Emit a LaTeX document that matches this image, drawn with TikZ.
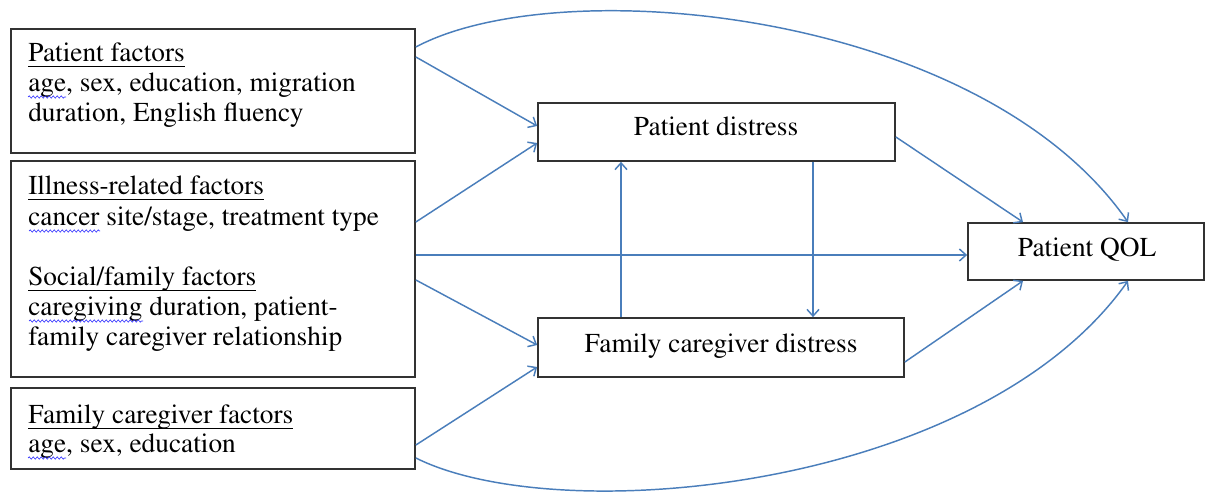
\documentclass[tikz,border=0pt]{standalone}
\usepackage[T1]{fontenc}
\renewcommand{\rmdefault}{ptm}
\usetikzlibrary{arrows.meta,decorations.pathmorphing}
\definecolor{arrowblue}{RGB}{74,126,187}
\definecolor{boxline}{RGB}{50,50,50}
\newcommand{\myul}[1]{\setbox0\hbox{#1}\rlap{\rule[-3.6pt]{\wd0}{0.9pt}}\box0}
\newcommand{\rbox}[5]{\node[bx, minimum width={(#4-#2)*0.75pt}, minimum height={(#5-#3)*0.75pt}] (#1) at ({(#2+#4)/2},{(#3+#5)/2}) {};}
\begin{document}
\begin{tikzpicture}[x=0.75pt,y=-0.75pt,
 bx/.style={draw=boxline, line width=1.3pt, inner sep=0pt},
 txt/.style={anchor=base west, inner sep=0pt, font=\fontsize{20.5}{22.5}\selectfont},
 ctxt/.style={anchor=base, inner sep=0pt, font=\fontsize{20.5}{22.5}\selectfont},
 conn/.style={draw=arrowblue, line width=1.1pt, -{Straight Barb[length=5pt,width=9pt]}},
 wavy/.style={draw=blue!80, line width=0.5pt, decorate, decoration={snake, amplitude=0.8pt, segment length=3pt}}]
\useasboundingbox (0,0) rectangle (1206,498);
% boxes
\rbox{pf}{11}{29}{415}{153}
\rbox{ir}{11}{161}{415}{377}
\rbox{fc}{11}{388}{415}{469}
\rbox{pd}{538}{103}{895}{161}
\rbox{fd}{538}{318}{904}{377}
\rbox{ql}{968}{223}{1204}{280}
% texts
\node[txt] (pf1) at (28,62) {\myul{Patient factors}};
\node[txt] (pf2) at (28,92) {age, sex, education, migration};
\node[txt] (pf3) at (28,122) {duration, English fluency};
\node[txt] (ir1) at (28,195) {\myul{Illness-related factors}};
\node[txt] (ir2) at (28,226) {cancer site/stage, treatment type};
\node[txt] (ir3) at (28,286) {\myul{Social/family factors}};
\node[txt] (ir4) at (28,316) {caregiving duration, patient-};
\node[txt] (ir5) at (28,346) {family caregiver relationship};
\node[txt] (fc1) at (28,424) {\myul{Family caregiver factors}};
\node[txt] (fc2) at (28,453) {age, sex, education};
\node[ctxt] (pdt) at (716,136) {Patient distress};
\node[ctxt] (fdt) at (721,353) {Family caregiver distress};
\node[ctxt] (qlt) at (1087,257) {Patient QOL};
% spell-check squiggles
\draw[wavy] (28,97) -- (66,97);
\draw[wavy] (29,231) -- (100,231);
\draw[wavy] (29,321) -- (143,321);
\draw[wavy] (28,458) -- (66,458);
% connectors
\draw[conn] (pf.east |- 0,57) -- (pd.west |- 0,126);
\draw[conn] (ir.east |- 0,222) -- (pd.west |- 0,143);
\draw[conn] (ir.east |- 0,255) -- (ql.west |- 0,255);
\draw[conn] (ir.east |- 0,280) -- (fd.west |- 0,345);
\draw[conn] (fc.east |- 0,445) -- (fd.west |- 0,367);
\draw[conn] (pd.east |- 0,137) -- (ql.north -| 1023,0);
\draw[conn] (fd.east |- 0,362) -- (ql.south -| 1023,0);
\draw[conn] (fd.north -| 621,0) -- (pd.south -| 621,0);
\draw[conn] (pd.south -| 813,0) -- (fd.north -| 813,0);
\draw[conn] (pf.east |- 0,47) .. controls (560,-30) and (980,10) .. (ql.north -| 1128,0);
\draw[conn] (fc.east |- 0,458) .. controls (560,530) and (980,490) .. (ql.south -| 1128,0);
\end{tikzpicture}
\end{document}
